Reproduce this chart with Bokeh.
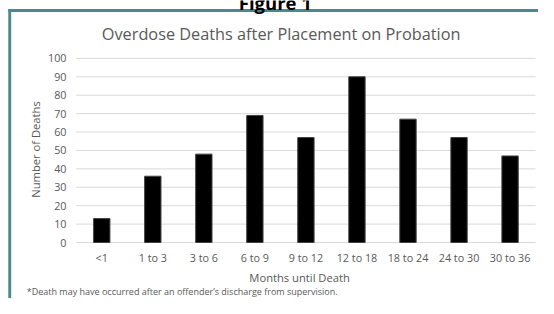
from bokeh.plotting import figure
from bokeh.models import Range1d
from bokeh.core.properties import value
from bokeh.embed import file_html
from bokeh.resources import INLINE

categories = ["<1", "1 to 3", "3 to 6", "6 to 9", "9 to 12", "12 to 18", "18 to 24", "24 to 30", "30 to 36"]
deaths = [13, 36, 48, 69, 57, 90, 67, 57, 47]
y_ticks = [0, 10, 20, 30, 40, 50, 60, 70, 80, 90, 100]
y_tick_labels = [str(t) for t in y_ticks]

title = "Overdose Deaths after Placement on Probation"
figure_label = "Figure 1"
x_title = "Months until Death"
y_title = "Number of Deaths"
footnote = "*Death may have occurred after an offender\u2019s discharge from supervision."

FONT = value("Open Sans")
GRAY = "#595959"
TEAL = "#4a8a8f"
W, H = 538, 298                  # fits the 554x314 window with its 8px page margin
KX, KY = W / 554.0, H / 314.0     # layout designed on a 554x314 sheet

def px_(v):
    return v * KX

def py_(v):
    return v * KY

# plot area (value 0..100, categories 0..n) in canvas pixels
FL, FR, FT, FB = px_(78), px_(551), py_(61), py_(255)
n = len(categories)
sx = (FR - FL) / n
sy = (FB - FT) / 100.0

p = figure(width=W, height=H, output_backend="svg", toolbar_location=None, tools="",
           x_range=Range1d(-FL / sx, (W - FL) / sx),
           y_range=Range1d(-(H - FB) / sy, FB / sy),
           x_axis_location=None, y_axis_location=None,
           min_border=0)
p.outline_line_color = None
p.xgrid.visible = False
p.ygrid.visible = False

def dx(ref_px):
    return (px_(ref_px) - FL) / sx

def dy(ref_py):
    return (FB - py_(ref_py)) / sy

xc = [i + 0.5 for i in range(n)]

# grid lines
p.segment(x0=[0] * len(y_ticks), x1=[n] * len(y_ticks), y0=y_ticks, y1=y_ticks,
          line_color="#d9d9d9", line_width=1)

# bars
p.vbar(x=xc, top=deaths, width=0.32, fill_color="black", line_color="#404040", line_width=1)

# y tick labels
p.text(x=[dx(68)] * len(y_ticks), y=y_ticks, text=y_tick_labels, text_font=FONT,
       text_font_size="10.8px", text_color=GRAY, text_align="right", text_baseline="middle")
# x tick labels
p.text(x=xc, y=[dy(271)] * n, text=categories, text_font=FONT,
       text_font_size="10.8px", text_color=GRAY, text_align="center", text_baseline="middle")

# chart box border (kept inside the canvas)
p.quad(left=[dx(8), dx(8)], right=[dx(11), dx(554)], top=[dy(9), dy(9)], bottom=[dy(314), dy(12)],
       fill_color=TEAL, line_color=None)

def lab(text, rx, ry, size, color=GRAY, align="center", angle=0.0, style="normal", baseline="middle"):
    p.text(x=[dx(rx)], y=[dy(ry)], text=[text], text_font=FONT, text_font_size=size,
           text_color=color, text_align=align, text_baseline=baseline, angle=angle,
           text_font_style=style)

lab(figure_label, 283, 2, "18.5px", color="black", style="bold", baseline="alphabetic")
lab(title, 289, 35, "16.3px")
lab(y_title, 36, 157, "11.2px", angle=1.5708)
lab(x_title, 308, 292, "11.2px")
lab(footnote, 27, 307, "9px", align="left")

open("out.html", "w").write(file_html(p, INLINE))
